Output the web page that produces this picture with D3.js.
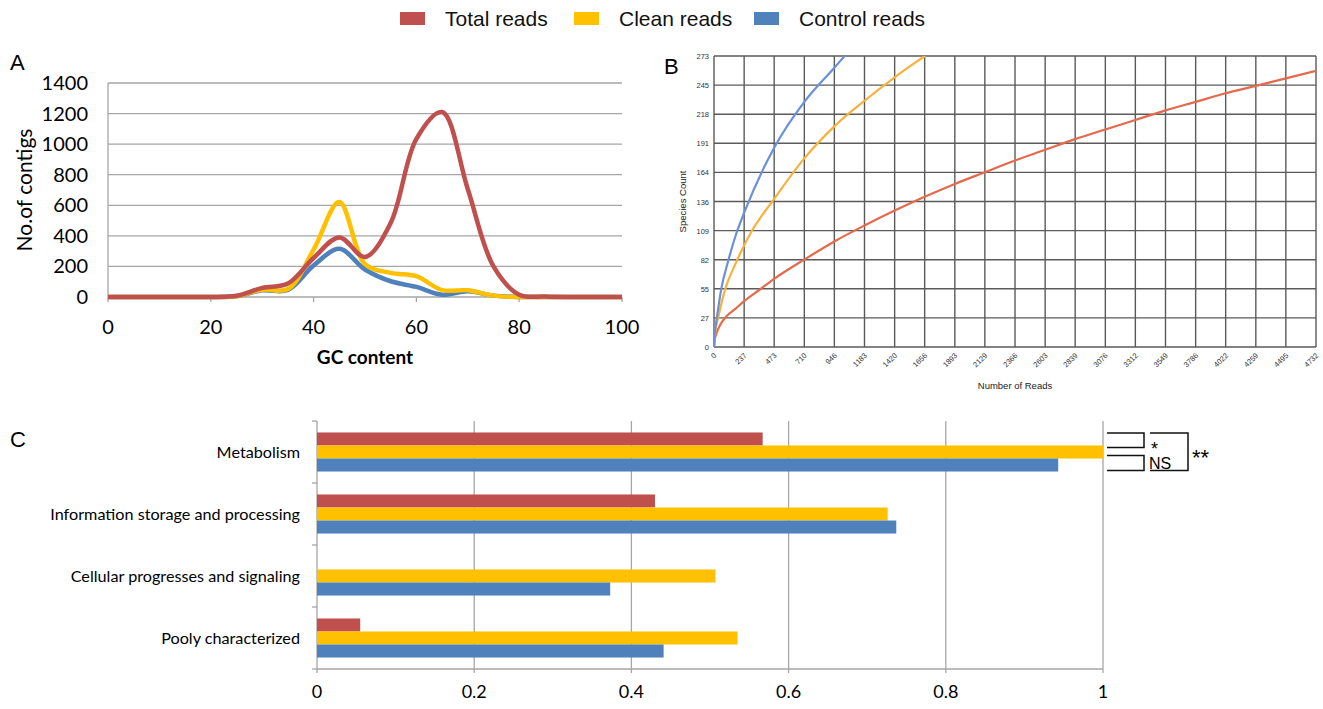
<!DOCTYPE html>
<html lang="en">
<head>
  <meta charset="UTF-8">
  <title>Reads comparison</title>
  <script src="https://d3js.org/d3.v7.min.js"></script>
  <style>
    body { margin: 0; background: #fff; }
    svg { display: block; }
    .calib { font-family: Lato, 'Open Sans', sans-serif; }
    .arial { font-family: 'Liberation Sans', Arial, sans-serif; }
  </style>
</head>
<body>
  <div id="canvas"></div>
  <script>
    // series names / colours
    const seriesNames = ['Total reads', 'Clean reads', 'Control reads'];
    const seriesColors = ['#c0504d', '#ffc000', '#4f81bd'];
    const rareColors = ['#e5694b', '#f8b13d', '#6a8fdb'];

    // panel A : GC content distribution
    const gcContent = [0, 5, 10, 15, 20, 25, 30, 35, 40, 45, 50, 55, 60, 65, 70, 75, 80, 85, 90, 95, 100];
    const gcTotal   = [0, 0, 0, 0, 0, 8, 60, 88, 255, 390, 262, 485, 1035, 1210, 705, 200, 15, 3, 0, 0, 0];
    const gcClean   = [0, 0, 0, 0, 0, 5, 48, 52, 310, 622, 215, 158, 136, 45, 44, 9, 0, 0, 0, 0, 0];
    const gcControl = [0, 0, 0, 0, 0, 5, 44, 46, 206, 315, 180, 103, 66, 15, 37, 9, 0, 0, 0, 0, 0];
    const gcXTicks = [0, 20, 40, 60, 80, 100];
    const gcYTicks = [0, 200, 400, 600, 800, 1000, 1200, 1400];

    // panel B : rarefaction curves
    const readTicks = [0, 237, 473, 710, 946, 1183, 1420, 1656, 1893, 2129, 2366, 2603, 2839, 3076, 3312, 3549, 3786, 4022, 4259, 4495, 4732];
    const speciesTicks = [0, 27, 55, 82, 109, 136, 164, 191, 218, 245, 273];
    const rareTotalReads = [0, 5, 20, 50, 100, 170, 237, 350, 473, 710, 946, 1183, 1420, 1656, 1893, 2129, 2366, 2603, 2839, 3076, 3312, 3549, 3786, 4022, 4259, 4495, 4732];
    const rareTotalCount = [0, 6, 13, 21, 29, 36, 43, 53, 64, 82, 99, 114, 128, 141, 153, 164, 175, 185, 195, 204, 213, 222, 230, 238, 245, 252, 259];
    const rareCleanReads = [0, 10, 32, 90, 165, 298, 473, 710, 946, 1183, 1420, 1656, 1750];
    const rareCleanCount = [0, 14, 27, 55, 77, 109, 139, 177, 207, 231, 253, 273, 281];
    const rareControlReads = [0, 8, 22, 58, 110, 174, 237, 473, 710, 946, 1020, 1080];
    const rareControlCount = [0, 15, 27, 55, 80, 106, 126, 187, 230, 262, 272, 280];

    // panel C : functional categories
    const categories = ['Metabolism', 'Information storage and processing', 'Cellular progresses and signaling', 'Pooly characterized'];
    const catTotal   = [0.567, 0.43, 0, 0.055];
    const catClean   = [1.0, 0.726, 0.507, 0.535];
    const catControl = [0.943, 0.737, 0.373, 0.441];
    const catTicks = [0, 0.2, 0.4, 0.6, 0.8, 1];

    const width = 1323;
    const height = 709;

    const svg = d3.select('#canvas')
      .append('svg')
      .attr('width', width)
      .attr('height', height);

    // ---------- legend ----------
    const legendX = [400, 574, 754];
    const legend = svg.append('g').attr('class', 'arial');
    seriesNames.forEach((name, i) => {
      legend.append('rect')
        .attr('x', legendX[i])
        .attr('y', 12)
        .attr('width', 25)
        .attr('height', 13)
        .attr('fill', seriesColors[i]);
      legend.append('text')
        .attr('x', legendX[i] + 45)
        .attr('y', 26)
        .style('font-size', '21px')
        .attr('fill', '#111')
        .text(name);
    });

    // panel letters
    [['A', 10, 70], ['B', 664, 74], ['C', 10, 447]].forEach(d => {
      svg.append('text')
        .attr('class', 'arial')
        .attr('x', d[1])
        .attr('y', d[2])
        .style('font-size', '22px')
        .text(d[0]);
    });

    // ---------- panel A ----------
    const ax = d3.scaleLinear().domain([0, 100]).range([108, 622]);
    const ay = d3.scaleLinear().domain([0, 1400]).range([297, 83]);
    const gA = svg.append('g').attr('class', 'calib');

    gA.selectAll('line.grid')
      .data(gcYTicks)
      .enter()
      .append('line')
      .attr('x1', ax(0))
      .attr('x2', ax(100))
      .attr('y1', d => ay(d))
      .attr('y2', d => ay(d))
      .attr('stroke', '#a6a6a6')
      .attr('stroke-width', 1.3);

    gA.append('line')
      .attr('x1', ax(0)).attr('x2', ax(0))
      .attr('y1', ay(1400)).attr('y2', ay(0))
      .attr('stroke', '#a6a6a6')
      .attr('stroke-width', 1.3);

    gA.selectAll('line.xt')
      .data(gcXTicks)
      .enter()
      .append('line')
      .attr('x1', d => ax(d)).attr('x2', d => ax(d))
      .attr('y1', ay(0)).attr('y2', ay(0) + 5)
      .attr('stroke', '#a6a6a6')
      .attr('stroke-width', 1.3);

    gA.selectAll('text.yl')
      .data(gcYTicks)
      .enter()
      .append('text')
      .attr('x', 88)
      .attr('y', d => ay(d) + 7)
      .attr('text-anchor', 'end')
      .style('font-size', '20px')
      .text(d => d);

    gA.selectAll('text.xl')
      .data(gcXTicks)
      .enter()
      .append('text')
      .attr('x', d => ax(d))
      .attr('y', 334)
      .attr('text-anchor', 'middle')
      .style('font-size', '20px')
      .text(d => d);

    gA.append('text')
      .attr('x', ax(50))
      .attr('y', 364)
      .attr('text-anchor', 'middle')
      .style('font-size', '19px')
      .style('font-weight', 'bold')
      .text('GC content');

    gA.append('text')
      .attr('transform', 'translate(32, 190) rotate(-90)')
      .attr('text-anchor', 'middle')
      .style('font-size', '21px')
      .text('No.of contigs');

    const gcLine = d3.line()
      .x(d => ax(d[0]))
      .y(d => ay(d[1]))
      .curve(d3.curveCatmullRom.alpha(0.5));

    [gcControl, gcClean, gcTotal].forEach((vals, k) => {
      const idx = 2 - k;
      gA.append('path')
        .datum(gcContent.map((g, i) => [g, vals[i]]))
        .attr('d', gcLine)
        .attr('fill', 'none')
        .attr('stroke', seriesColors[idx])
        .attr('stroke-width', 4.5)
        .attr('stroke-linejoin', 'round');
    });

    // ---------- panel B ----------
    const bx = d3.scaleLinear().domain([0, 4732]).range([714, 1316]);
    const by = d3.scaleLinear().domain([0, 273]).range([347, 56]);
    const gB = svg.append('g').attr('class', 'arial');

    svg.append('clipPath')
      .attr('id', 'clipB')
      .append('rect')
      .attr('x', bx(0))
      .attr('y', by(273))
      .attr('width', bx(4732) - bx(0))
      .attr('height', by(0) - by(273));

    gB.selectAll('line.vg')
      .data(readTicks)
      .enter()
      .append('line')
      .attr('x1', d => bx(d)).attr('x2', d => bx(d))
      .attr('y1', by(273)).attr('y2', by(0))
      .attr('stroke', '#5a5a5a')
      .attr('stroke-width', 1.4);

    gB.selectAll('line.hg')
      .data(speciesTicks)
      .enter()
      .append('line')
      .attr('x1', bx(0)).attr('x2', bx(4732))
      .attr('y1', (d, i) => by(0) + (by(273) - by(0)) * i / 10)
      .attr('y2', (d, i) => by(0) + (by(273) - by(0)) * i / 10)
      .attr('stroke', '#5a5a5a')
      .attr('stroke-width', 1.4);

    gB.selectAll('text.yl')
      .data(speciesTicks)
      .enter()
      .append('text')
      .attr('x', bx(0) - 5)
      .attr('y', (d, i) => by(0) + (by(273) - by(0)) * i / 10 + 3)
      .attr('text-anchor', 'end')
      .style('font-size', '7.5px')
      .attr('fill', '#333')
      .text(d => d);

    gB.selectAll('text.xl')
      .data(readTicks)
      .enter()
      .append('text')
      .attr('transform', d => 'translate(' + (bx(d) + 3) + ',' + (by(0) + 9) + ') rotate(-45)')
      .attr('text-anchor', 'end')
      .style('font-size', '7.5px')
      .attr('fill', '#333')
      .text(d => d);

    gB.append('text')
      .attr('x', (bx(0) + bx(4732)) / 2)
      .attr('y', 389)
      .attr('text-anchor', 'middle')
      .style('font-size', '9.5px')
      .attr('fill', '#222')
      .text('Number of Reads');

    gB.append('text')
      .attr('transform', 'translate(686,' + ((by(0) + by(273)) / 2) + ') rotate(-90)')
      .attr('text-anchor', 'middle')
      .style('font-size', '9.5px')
      .attr('fill', '#222')
      .text('Species Count');

    const rareLine = d3.line()
      .x(d => bx(d[0]))
      .y(d => by(d[1]))
      .curve(d3.curveMonotoneX);

    [[rareTotalReads, rareTotalCount], [rareCleanReads, rareCleanCount], [rareControlReads, rareControlCount]]
      .forEach((s, i) => {
        gB.append('path')
          .datum(s[0].map((r, j) => [r, s[1][j]]))
          .attr('d', rareLine)
          .attr('clip-path', 'url(#clipB)')
          .attr('fill', 'none')
          .attr('stroke', rareColors[i])
          .attr('stroke-width', 2.2);
      });

    // ---------- panel C ----------
    const cx = d3.scaleLinear().domain([0, 1]).range([317, 1103]);
    const cy = d3.scaleBand().domain(categories).range([421, 669]).paddingInner(0.37).paddingOuter(0.185);
    const cs = d3.scaleBand().domain(seriesNames).range([0, cy.bandwidth()]);
    const gC = svg.append('g').attr('class', 'calib');

    gC.selectAll('line.grid')
      .data(catTicks.slice(1))
      .enter()
      .append('line')
      .attr('x1', d => cx(d)).attr('x2', d => cx(d))
      .attr('y1', 421).attr('y2', 673)
      .attr('stroke', '#a6a6a6')
      .attr('stroke-width', 1.3);

    gC.append('line')
      .attr('x1', cx(0)).attr('x2', cx(1))
      .attr('y1', 669).attr('y2', 669)
      .attr('stroke', '#a6a6a6')
      .attr('stroke-width', 1.3);

    gC.append('line')
      .attr('x1', cx(0)).attr('x2', cx(0))
      .attr('y1', 421).attr('y2', 673)
      .attr('stroke', '#a6a6a6')
      .attr('stroke-width', 1.3);

    const bounds = [421].concat(categories.map(c => cy(c) + cy.bandwidth() + cy.step() * cy.paddingInner() / 2));
    gC.selectAll('line.yt')
      .data(bounds)
      .enter()
      .append('line')
      .attr('x1', cx(0) - 5).attr('x2', cx(0))
      .attr('y1', d => d).attr('y2', d => d)
      .attr('stroke', '#a6a6a6')
      .attr('stroke-width', 1.3);

    gC.selectAll('text.cat')
      .data(categories)
      .enter()
      .append('text')
      .attr('x', 300)
      .attr('y', d => cy(d) + cy.bandwidth() / 2 + 6)
      .attr('text-anchor', 'end')
      .style('font-size', '16.2px')
      .text(d => d);

    gC.selectAll('text.xl')
      .data(catTicks)
      .enter()
      .append('text')
      .attr('x', d => cx(d))
      .attr('y', 698)
      .attr('text-anchor', 'middle')
      .style('font-size', '18px')
      .text(d => d);

    [catTotal, catClean, catControl].forEach((vals, i) => {
      gC.selectAll('rect.s' + i)
        .data(categories)
        .enter()
        .append('rect')
        .attr('x', cx(0))
        .attr('y', d => cy(d) + cs(seriesNames[i]))
        .attr('width', (d, j) => cx(vals[j]) - cx(0))
        .attr('height', cs.bandwidth())
        .attr('fill', seriesColors[i]);
    });

    // significance brackets
    const m = categories[0];
    const yTop = cy(m);
    const bh = cs.bandwidth();
    const bx1 = cx(1) + 4, bx2 = cx(1) + 41, bx3 = cx(1) + 47, bx4 = cx(1) + 85;
    const brackets = svg.append('g').attr('class', 'arial');
    const bracketPath = (xa, xb, ya, yb) => 'M' + xa + ',' + ya + 'H' + xb + 'V' + yb + 'H' + xa;
    brackets.append('path')
      .attr('d', bracketPath(bx1, bx2, yTop + 0.5, yTop + bh + 2))
      .attr('fill', 'none').attr('stroke', '#111').attr('stroke-width', 1.5);
    brackets.append('path')
      .attr('d', bracketPath(bx1, bx2, yTop + 2 * bh - 3, yTop + 3 * bh - 1))
      .attr('fill', 'none').attr('stroke', '#111').attr('stroke-width', 1.5);
    brackets.append('path')
      .attr('d', bracketPath(bx3, bx4, yTop + 0.5, yTop + 3 * bh - 1))
      .attr('fill', 'none').attr('stroke', '#111').attr('stroke-width', 1.5);
    brackets.append('text')
      .attr('x', bx3 + 1).attr('y', 455)
      .style('font-size', '18px')
      .text('*');
    brackets.append('text')
      .attr('x', bx3 - 1).attr('y', 469)
      .style('font-size', '16px')
      .text('NS');
    brackets.append('text')
      .attr('x', bx4 + 4).attr('y', 465)
      .style('font-size', '22px')
      .text('**');
  </script>
</body>
</html>
